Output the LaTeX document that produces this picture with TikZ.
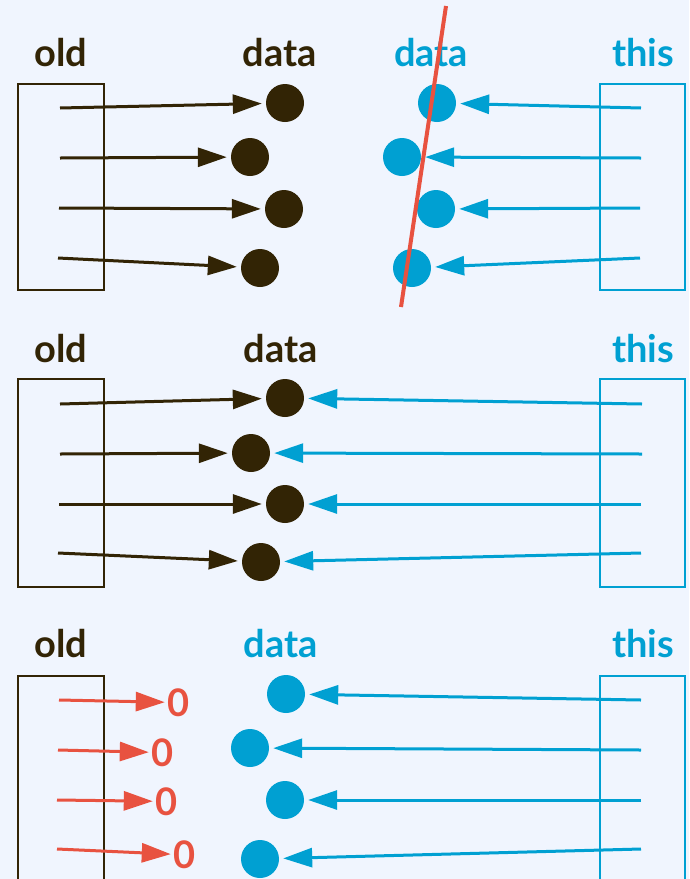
\documentclass[tikz,border=0pt]{standalone}
\usepackage{fontspec}
\setmainfont{Lato}
\usetikzlibrary{arrows.meta}
\definecolor{bg}{RGB}{240,245,254}
\definecolor{ink}{RGB}{50,36,5}
\definecolor{sky}{RGB}{0,160,210}
\definecolor{tomato}{RGB}{232,82,64}
\tikzset{
  lbl/.style={anchor=base,inner sep=0pt,font=\fontsize{38}{40}\selectfont\bfseries},
  zero/.style={anchor=base,inner sep=0pt,text=tomato,font=\fontsize{38}{40}\selectfont\bfseries},
  dot/.style={circle,inner sep=0pt,minimum size=38pt,fill=#1},
  arr/.style={draw=#1,line width=3pt,-{Triangle[length=29pt,width=19pt]},shorten >=4pt},
  frame/.style={draw=#1,line width=2.8pt},
}
\begin{document}
\begin{tikzpicture}[x=1pt,y=-1pt]
\useasboundingbox (0,0) rectangle (689,879);
\fill[bg] (0,0) rectangle (689,879);
\clip (0,0) rectangle (689,879);

% ---------- panel 1 ----------
\node[lbl,text=ink] (old1) at (61,66) {old};
\node[lbl,text=ink] (dataA) at (280,66) {data};
\node[lbl,text=sky] (dataB) at (431,66) {data};
\node[lbl,text=sky] (this1) at (643,66) {this};
\draw[frame=ink] (18,84) rectangle (104,290);
\draw[frame=sky] (600,84) rectangle (685,290);
\coordinate (s11) at (60,108);
\coordinate (s12) at (60,158);
\coordinate (s13) at (59,208);
\coordinate (s14) at (58,258);
\coordinate (t11) at (641,108);
\coordinate (t12) at (641,158);
\coordinate (t13) at (640,208);
\coordinate (t14) at (640,258);
\node[dot=ink] (k11) at (285,103) {};
\node[dot=ink] (k12) at (250,157) {};
\node[dot=ink] (k13) at (284,209) {};
\node[dot=ink] (k14) at (260,268) {};
\node[dot=sky] (b11) at (437,103) {};
\node[dot=sky] (b12) at (402,157) {};
\node[dot=sky] (b13) at (436,209) {};
\node[dot=sky] (b14) at (412,268) {};
\foreach \i in {1,...,4}{
  \draw[arr=ink] (s1\i) -- (k1\i);
  \draw[arr=sky] (t1\i) -- (b1\i);
}
\coordinate (rtop) at (446,6);
\coordinate (rbot) at (401,307);
\draw[tomato,line width=4pt] (rtop) -- (rbot);

% ---------- panel 2 ----------
\node[lbl,text=ink] (old2) at (61,362) {old};
\node[lbl,text=ink] (data2) at (281,362) {data};
\node[lbl,text=sky] (this2) at (643,362) {this};
\draw[frame=ink] (18,379) rectangle (104,587);
\draw[frame=sky] (600,379) rectangle (685,587);
\coordinate (s21) at (60,404);
\coordinate (s22) at (60,454);
\coordinate (s23) at (59,504);
\coordinate (s24) at (58,553);
\coordinate (t21) at (642,404);
\coordinate (t22) at (642,454);
\coordinate (t23) at (641,504);
\coordinate (t24) at (641,553);
\node[dot=ink] (k21) at (285,398) {};
\node[dot=ink] (k22) at (251,453) {};
\node[dot=ink] (k23) at (285,504) {};
\node[dot=ink] (k24) at (261,562) {};
\foreach \i in {1,...,4}{
  \draw[arr=ink] (s2\i) -- (k2\i);
  \draw[arr=sky] (t2\i) -- (k2\i);
}

% ---------- panel 3 ----------
\node[lbl,text=ink] (old3) at (61,657) {old};
\node[lbl,text=sky] (data3) at (281,657) {data};
\node[lbl,text=sky] (this3) at (643,657) {this};
\draw[frame=ink] (18,676) rectangle (104,900);
\draw[frame=sky] (600,676) rectangle (685,900);
\coordinate (s31) at (59,700);
\coordinate (s32) at (58,750);
\coordinate (s33) at (57,800);
\coordinate (s34) at (57,849);
\coordinate (t31) at (641,700);
\coordinate (t32) at (641,750);
\coordinate (t33) at (641,800);
\coordinate (t34) at (641,849);
\node[zero] (z1) at (179,716) {0};
\node[zero] (z2) at (163,766) {0};
\node[zero] (z3) at (167,815) {0};
\node[zero] (z4) at (185,868) {0};
\node[dot=sky] (b31) at (286,694) {};
\node[dot=sky] (b32) at (250,748) {};
\node[dot=sky] (b33) at (285,800) {};
\node[dot=sky] (b34) at (260,859) {};
\foreach \i in {1,...,4}{
  \draw[arr=tomato,shorten >=3pt] (s3\i) -- (z\i.west);
  \draw[arr=sky] (t3\i) -- (b3\i);
}
\end{tikzpicture}
\end{document}
